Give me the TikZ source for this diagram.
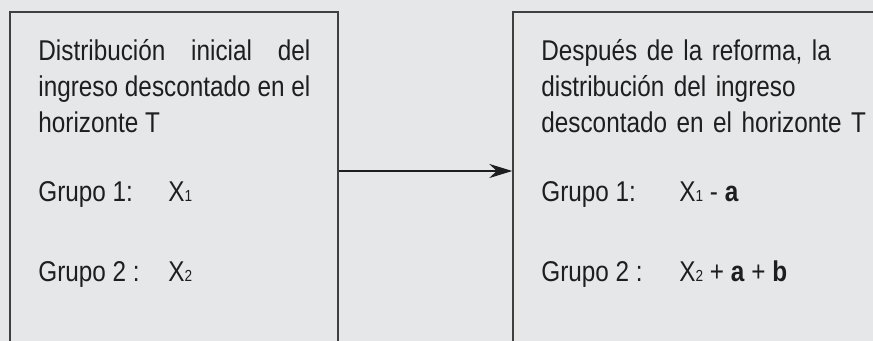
\documentclass[tikz,border=0pt]{standalone}
\usepackage{fontspec}
\setmainfont{Liberation Sans}[FakeStretch=0.85]
\usetikzlibrary{arrows.meta}
\definecolor{fondo}{RGB}{230,231,233}
\definecolor{tinta}{RGB}{30,30,30}
\newcommand{\idx}[1]{{\fontsize{8}{8}\selectfont #1}}
\begin{document}
\begin{tikzpicture}[x=0.5pt,y=-0.5pt,>={Stealth[length=11.5pt,width=7pt]},
    caja/.style={draw=black!75,line width=0.7pt,rectangle,minimum width=#1,minimum height=194pt,inner sep=0pt},
    texto/.style={anchor=base west,inner sep=0pt,text=tinta,font=\fontsize{14.3}{18}\selectfont}]
    \useasboundingbox[fill=fondo](0,0) rectangle (873,341);
    \clip (0,0) rectangle (873,341);
    \node[caja=164pt](ini) at (174,206){};
    \node[caja=218.5pt](fin) at (731.5,206){};
    \coordinate (flecha) at (0,171);
    \draw[->,line width=1.2pt,tinta](ini.east |- flecha)--(fin.west |- flecha);
    % textos de la caja inicial
    \node[texto,text width=136pt,align=justify](tini) at (38,61){Distribución inicial del\linebreak ingreso descontado en el\linebreak horizonte T};
    \node[texto](g1i) at (38,202){Grupo 1:};
    \node[texto](x1i) at (168,202){X\idx{1}};
    \node[texto](g2i) at (38,282){Grupo 2 :};
    \node[texto](x2i) at (168,282){X\idx{2}};
    % textos de la caja final
    \node[texto,text width=170pt,align=left](tfin) at (541,61){Después de la reforma, la\\distribución del ingreso\\descontado en el horizonte T};
    \node[texto](g1f) at (541,202){Grupo 1:};
    \node[texto](x1f) at (679,202){X\idx{1} - \textbf{a}};
    \node[texto](g2f) at (541,282){Grupo 2 :};
    \node[texto](x2f) at (679,282){X\idx{2} + \textbf{a} + \textbf{b}};
\end{tikzpicture}
\end{document}
